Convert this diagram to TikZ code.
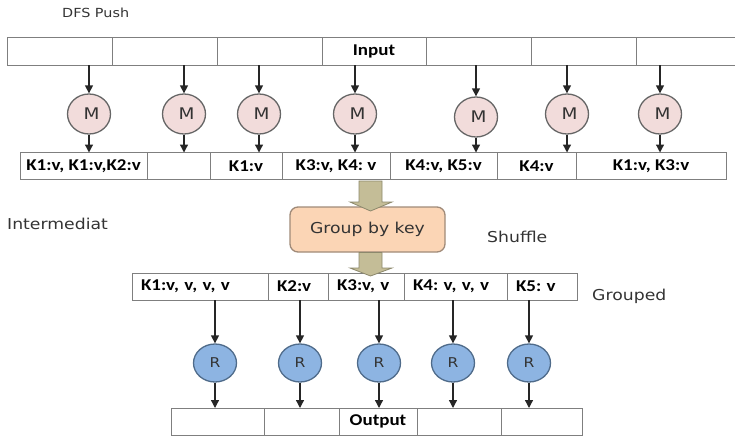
\documentclass[tikz,border=0pt]{standalone}
\usepackage{fontspec}
\usetikzlibrary{arrows.meta,shapes.geometric,calc}
\newfontfamily\lblfont[FakeStretch=1.15]{DejaVu Sans}
\newfontfamily\cellfont[FakeStretch=1.15]{Carlito}
\definecolor{mfill}{HTML}{F2DCDB}
\definecolor{rfill}{HTML}{8DB4E2}
\definecolor{rdraw}{HTML}{4F6B8A}
\definecolor{boxfill}{HTML}{FBD5B5}
\definecolor{boxdraw}{HTML}{A08A78}
\definecolor{fatfill}{HTML}{C4BD97}
\definecolor{fatdraw}{HTML}{8C886C}
\definecolor{celldraw}{HTML}{7F7F7F}
\frenchspacing
\begin{document}
\begin{tikzpicture}[x=1pt,y=-1pt,
  cellbox/.style={draw=celldraw, line width=1pt, rectangle, inner sep=0pt, outer sep=0pt,
    minimum height=27pt, font=\cellfont\bfseries\fontsize{16.5}{18}\selectfont\frenchspacing},
  leftcell/.style={cellbox, align=left, inner xsep=9pt},
  mapper/.style={ellipse, draw=black!60, line width=1.3pt, fill=mfill, minimum width=43pt,
    minimum height=40pt, inner sep=0pt, text=black!80, font=\lblfont\fontsize{16}{18}\selectfont},
  reducer/.style={ellipse, draw=rdraw, line width=1.3pt, fill=rfill, minimum width=43pt,
    minimum height=38pt, inner sep=0pt, text=black!80, font=\lblfont\fontsize{13.5}{15}\selectfont},
  flow/.style={draw=black!85, line width=1.3pt, -{Triangle[length=8pt,width=8pt]}},
  groupbox/.style={draw=boxdraw, line width=1.3pt, fill=boxfill, rounded corners=8pt,
    minimum width=155pt, minimum height=45pt, inner sep=0pt, text=black!80, font=\lblfont\fontsize{15}{17}\selectfont},
  fatarrow/.style={draw=fatdraw, line width=0.8pt, fill=fatfill, line join=miter},
  lbl/.style={inner sep=0pt, anchor=base west, text=black!80, font=\lblfont\fontsize{15}{17}\selectfont}
]
\useasboundingbox (0,0) rectangle (735,436);

% Input row
\foreach \n/\l/\r/\t in {in1/7/112/{}, in2/112/217/{}, in3/217/322/{}, in4/322/426/{Input},
    in5/426/531/{}, in6/531/636/{}, in7/636/741/{}}
  \node[cellbox, minimum width={\r-\l}] (\n) at ({(\l+\r)/2},51.5) {\t};

% Mappers
\foreach \n/\x/\y in {m1/89/114, m2/184/114, m3/259/114, m4/355/114, m5/476/117, m6/567/114, m7/660/114}
  \node[mapper] (\n) at (\x,\y) {\kern5pt M};

% Intermediate row
\foreach \n/\l/\r/\t in {it1/20/147/{K1:v, K1:v,K2:v}, it2/147/210/{}, it3/210/282/{K1:v},
    it4/282/390/{K3:v, K4: v}, it5/390/497/{K4:v, K5:v}, it6/497/576/{K4:v}, it7/576/726/{K1:v, K3:v}}
  \node[cellbox, minimum width={\r-\l}] (\n) at ({(\l+\r)/2},166) {\t};

\foreach \i in {1,...,7} {
  \draw[flow] (in\i.south -| m\i.north) -- (m\i.north);
  \draw[flow] (m\i.south) -- (m\i.south |- it\i.north);
}

% Group by key
\node[groupbox] (gb) at (367.5,229.5) {Group by key};

% Grouped row
\foreach \n/\l/\r/\t in {gr1/132/268/{K1:v, v, v, v}, gr2/268/328/{K2:v}, gr3/328/404/{K3:v, v},
    gr4/404/507/{K4: v, v, v}, gr5/507/577/{K5: v}}
  \node[leftcell, text width={\r-\l-18}] (\n) at ({(\l+\r)/2},286.5) {\t};

% Fat arrows
\draw[fatarrow] (359,181) -- (382,181) -- (382,202) -- (392,202) -- (370.5,211) -- (350,202) -- (359,202) -- cycle;
\draw[fatarrow] (359,252.5) -- (382,252.5) -- (382,268) -- (392,268) -- (370.5,276) -- (350,268) -- (359,268) -- cycle;

% Reducers
\foreach \n/\x in {r1/215, r2/300, r3/379, r4/453, r5/529}
  \node[reducer] (\n) at (\x,363) {R};

% Output row
\foreach \n/\l/\r/\t in {o1/171/264/{}, o2/264/339/{}, o3/339/417/{Output}, o4/417/501/{}, o5/501/582/{}}
  \node[cellbox, minimum width={\r-\l}] (\n) at ({(\l+\r)/2},421.5) {\t};

\foreach \i in {1,...,5} {
  \draw[flow] (gr\i.south -| r\i.north) -- (r\i.north);
  \draw[flow] (r\i.south) -- (r\i.south |- o\i.north);
}

% Labels
\node[lbl, font=\lblfont\fontsize{12.5}{14}\selectfont] (dfs) at (62,18) {DFS Push};
\node[lbl] (inter) at (7,229) {Intermediat};
\node[lbl] (shuf) at (487,242) {Shuffle};
\node[lbl] (grp) at (592,300) {Grouped};
\end{tikzpicture}
\end{document}
